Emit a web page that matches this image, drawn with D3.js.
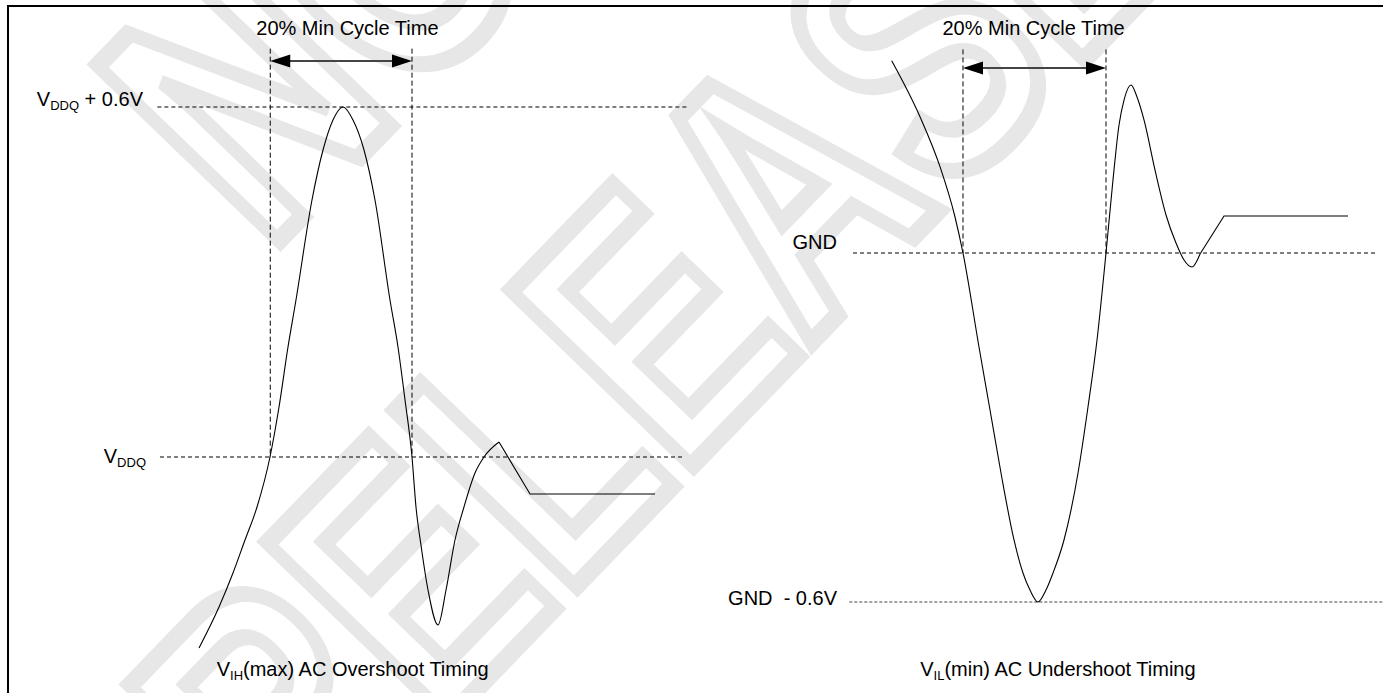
<!DOCTYPE html>
<html>
<head>
<meta charset="utf-8">
<script src="https://cdn.jsdelivr.net/npm/d3@7/dist/d3.min.js"></script>
<style>
  html, body { margin: 0; padding: 0; background: #fff; }
  svg { display: block; }
  text { font-family: "Liberation Sans", Arial, Helvetica, sans-serif; }
</style>
</head>
<body>
<div id="chart"></div>
<script>
// ---------------- data ----------------
// Overshoot waveform (time in % of frame, voltage relative to VDDQ in V)
const overshootTime = [7.43, 11.24, 13.90, 16.19, 18.48, 20.95, 22.67, 24.38, 25.90, 28.95, 31.05, 32.95, 34.86,
  36.76, 38.86, 40.95, 43.81, 45.33, 46.67, 48.0, 48.76, 49.71, 51.05, 52.95, 54.48, 56.19, 57.90, 60.0, 61.71, 64.57];
const overshootVolt = [-0.3274, -0.2571, -0.1989, -0.1423, -0.0857, 0, 0.0857, 0.1886, 0.2691, 0.4406, 0.5263, 0.5777, 0.6,
  0.5777, 0.5263, 0.4406, 0.2691, 0.1886, 0.0977, 0, -0.0857, -0.1509, -0.228, -0.288, -0.228, -0.1423, -0.0857, -0.0274, 0, 0.0257];
const overshootTailTime = [64.57, 70.48, 94.29];
const overshootTailVolt = [0.0257, -0.0634, -0.0634];

// Undershoot waveform (voltage relative to GND in V)
const undershootTime = [7.37, 12.76, 16.57, 19.43, 20.95, 24.0, 26.10, 28.19, 30.67, 32.38, 33.71, 35.24, 36.76, 38.10,
  40.19, 42.86, 44.76, 46.48, 48.19, 49.52, 50.67, 51.62, 52.95, 54.10, 55.43, 57.52, 59.62, 61.52, 63.05, 64.57, 66.10];
const undershootVolt = [0.3306, 0.2343, 0.1484, 0.0619, 0, -0.1616, -0.2699, -0.3782, -0.4934, -0.5501, -0.5794, -0.6, -0.5794, -0.5501,
  -0.4934, -0.3782, -0.2648, -0.1496, 0, 0.1255, 0.2201, 0.2630, 0.2888, 0.2682, 0.2287, 0.1427, 0.0653, 0.0172, -0.0120, -0.0241, -0.0017];
const undershootTailTime = [66.10, 70.67, 94.29];
const undershootTailVolt = [-0.0017, 0.0636, 0.0636];

// reference levels and labels
const overshootLevels = [0.6, 0];
const overshootLevelMain = ["V", "V"];
const overshootLevelSub = ["DDQ", "DDQ"];
const overshootLevelTail = [" + 0.6V", ""];
const undershootLevels = [0, -0.6];
const undershootLevelLabels = ["GND", "GND\u00a0 - 0.6V"];

// 20% min cycle time window
const overshootWindow = [21.0, 48.0];
const undershootWindow = [20.95, 48.19];
const windowTitle = "20% Min Cycle Time";

const captionMain = ["V", "V"];
const captionSub = ["IH", "IL"];
const captionRest = ["(max) AC Overshoot Timing", "(min) AC Undershoot Timing"];

const watermarkLines = ["NOT", "RELEASED"];

// ---------------- drawing ----------------
const W = 1383, H = 693;
const svg = d3.select("#chart").append("svg").attr("width", W).attr("height", H);
svg.append("rect").attr("width", W).attr("height", H).attr("fill", "#fff");

// watermark
const wm = svg.append("g").attr("class", "watermark");
const wmPos = [[266, 254], [298, 874]];
watermarkLines.forEach((s, i) => {
  wm.append("text")
    .attr("transform", `translate(${wmPos[i][0]},${wmPos[i][1]}) rotate(-46) scale(0.75,1)`)
    .attr("font-size", 366)
    .attr("font-weight", "bold")
    .attr("fill", "none")
    .attr("stroke", "#e7e7e7")
    .attr("stroke-width", 16)
    .attr("vector-effect", "non-scaling-stroke")
    .attr("stroke-linejoin", "miter")
    .text(s);
});

// frame
svg.append("path").attr("d", `M8,${H} V6 H${W}`).attr("fill", "none").attr("stroke", "#000").attr("stroke-width", 2);

const FS = 20, SUBFS = 13;

function addSubText(g, x, y, main, sub, rest, anchor) {
  const t = g.append("text").attr("x", x).attr("y", y).attr("font-size", FS)
    .attr("text-anchor", anchor).attr("fill", "#000").style("white-space", "pre");
  t.append("tspan").text(main);
  t.append("tspan").attr("font-size", SUBFS).attr("dy", 4).text(sub);
  if (rest) t.append("tspan").attr("dy", -4).text(rest);
  return t;
}

function drawPanel(cfg) {
  const g = svg.append("g");
  const x = d3.scaleLinear().domain([0, 100]).range(cfg.xRange);
  const y = d3.scaleLinear().domain(cfg.yDomain).range(cfg.yRange);

  // horizontal reference levels
  cfg.levels.forEach((lv, i) => {
    g.append("line")
      .attr("x1", x(cfg.levelStart[i])).attr("x2", x(cfg.levelEnd[i]))
      .attr("y1", y(lv)).attr("y2", y(lv))
      .attr("stroke", cfg.levelColor[i]).attr("stroke-width", 1)
      .attr("stroke-dasharray", cfg.levelDash[i]);
  });
  cfg.drawLevelLabels(g, x, y);

  // window markers
  cfg.window.forEach(t => {
    g.append("line")
      .attr("x1", x(t)).attr("x2", x(t))
      .attr("y1", y(cfg.markerTop)).attr("y2", y(cfg.markerBottom))
      .attr("stroke", "#000").attr("stroke-width", 1).attr("stroke-dasharray", "5,3");
  });
  // double arrow
  const ax1 = x(cfg.window[0]), ax2 = x(cfg.window[1]), ay = y(cfg.arrowLevel);
  g.append("line").attr("x1", ax1 + 10).attr("x2", ax2 - 10).attr("y1", ay).attr("y2", ay)
    .attr("stroke", "#444").attr("stroke-width", 2);
  g.append("path").attr("d", `M${ax1},${ay} L${ax1 + 20},${ay - 6.5} L${ax1 + 20},${ay + 6.5} Z`).attr("fill", "#000");
  g.append("path").attr("d", `M${ax2},${ay} L${ax2 - 20},${ay - 6.5} L${ax2 - 20},${ay + 6.5} Z`).attr("fill", "#000");
  g.append("text").attr("x", x(cfg.titleT)).attr("y", 35).attr("font-size", FS)
    .attr("text-anchor", "middle").text(windowTitle);

  // waveform
  const wave = cfg.time.map((t, i) => ({t, v: cfg.volt[i]}));
  const tail = cfg.tailTime.map((t, i) => ({t, v: cfg.tailVolt[i]}));
  const curve = d3.line().x(d => x(d.t)).y(d => y(d.v)).curve(d3.curveMonotoneX);
  const lin = d3.line().x(d => x(d.t)).y(d => y(d.v));
  g.append("path").attr("d", curve(wave)).attr("fill", "none").attr("stroke", "#000").attr("stroke-width", 1.1);
  g.append("path").attr("d", lin(tail)).attr("fill", "none").attr("stroke", "#000").attr("stroke-width", 1.1);

  // caption
  addSubText(g, x(cfg.captionT), 676, captionMain[cfg.idx], captionSub[cfg.idx], captionRest[cfg.idx], "start");
}

drawPanel({
  idx: 0,
  xRange: [160, 685],
  yDomain: [0, 0.6], yRange: [457, 107],
  levels: overshootLevels,
  levelStart: [-0.5, 0], levelEnd: [100.3, 100],
  levelColor: ["#000", "#000"], levelDash: ["4,3", "4,3"],
  drawLevelLabels: (g, x, y) => {
    overshootLevels.forEach((lv, i) => {
      const endX = i === 0 ? 143 : 146;
      addSubText(g, endX, y(lv) + (i === 0 ? -1 : 6), overshootLevelMain[i], overshootLevelSub[i], overshootLevelTail[i], "end");
    });
  },
  window: overshootWindow,
  markerTop: 0.7, markerBottom: 0,
  arrowLevel: 0.679,
  titleT: 35.7,
  time: overshootTime, volt: overshootVolt,
  tailTime: overshootTailTime, tailVolt: overshootTailVolt,
  captionT: 10.8
});

drawPanel({
  idx: 1,
  xRange: [853, 1378],
  yDomain: [-0.6, 0], yRange: [602, 253],
  levels: undershootLevels,
  levelStart: [0, -0.7], levelEnd: [100, 101.2],
  levelColor: ["#000", "#444"], levelDash: ["4,3", "3,2"],
  drawLevelLabels: (g, x, y) => {
    undershootLevels.forEach((lv, i) => {
      g.append("text").attr("x", 837).attr("y", y(lv) + (i === 0 ? -4 : 3))
        .attr("font-size", FS).attr("text-anchor", "end").style("white-space", "pre")
        .text(undershootLevelLabels[i]);
    });
  },
  window: undershootWindow,
  markerTop: 0.35, markerBottom: 0,
  arrowLevel: 0.318,
  titleT: 34.4,
  time: undershootTime, volt: undershootVolt,
  tailTime: undershootTailTime, tailVolt: undershootTailVolt,
  captionT: 12.8
});
</script>
</body>
</html>
